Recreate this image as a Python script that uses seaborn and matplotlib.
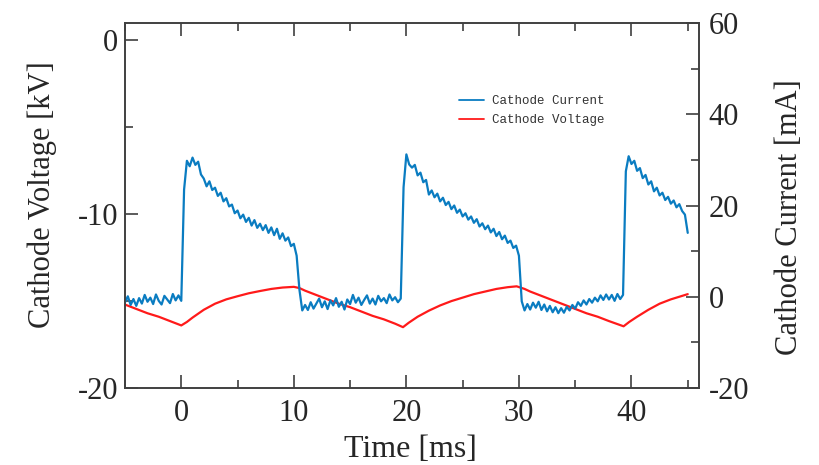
import numpy as np
import pandas as pd
import matplotlib
matplotlib.use("Agg")
import matplotlib.pyplot as plt
from matplotlib.ticker import MultipleLocator
import seaborn as sns

# ---------------- data ----------------
# cathode current [mA], sampled every 0.25 ms from -5 ms to 45 ms
cur_t_start = -5.0
cur_t_step = 0.25
cur_base_a = [-1.2, 0.1, -1.8, -0.5, -2.0, -0.3, -1.5, 0.4, -1.1, -0.2, -1.6,
              0.5, -0.9, -1.7, 0.2, -0.6, -1.4, 0.6, -0.8, 0.3, -0.9]
cur_rise_1 = [23.5, 29.8]
cur_pulse_1 = [28.6, 30.5, 28.9, 29.6, 26.8, 25.9, 24.2, 25.3, 23.4, 23.9,
               22.1, 22.8, 20.9, 21.6, 19.8, 20.2, 18.3, 18.9, 17.2, 18.0,
               16.4, 17.3, 15.6, 16.8, 15.1, 16.0, 14.6, 15.7, 14.0, 15.2,
               13.5, 14.9, 12.7, 13.9, 12.3, 13.0, 11.1, 11.6]
cur_fall_1 = [9.0, 1.5, -3.0]
cur_base_c = [-1.8, -2.9, -1.2, -2.6, -1.5, -0.4, -2.3, -1.0, -2.7, -0.8,
              -1.9, -0.3, -2.2, -1.1, -2.8, -0.6, -1.6, 0.4, -1.3, -0.2,
              -1.8, -0.7, 0.3, -1.5, -0.4, -1.7, 0.2, -1.0, -0.3, -1.4,
              0.5, -0.8, -0.1, -1.2, -0.4]
cur_rise_2 = [24.0, 31.2]
cur_pulse_2 = [29.0, 28.3, 28.9, 26.6, 27.2, 25.1, 25.6, 22.4, 23.3, 21.8,
               22.6, 20.9, 21.7, 20.1, 20.8, 19.2, 20.0, 18.4, 19.1, 17.6,
               18.3, 16.9, 17.6, 16.2, 17.0, 15.4, 16.1, 14.8, 15.6, 14.1,
               14.9, 13.3, 14.2, 12.6, 13.4, 11.8, 12.3, 10.7, 11.2]
cur_fall_2 = [9.0, -1.0, -3.0]
cur_base_e = [-1.6, -2.8, -1.3, -2.4, -1.1, -2.9, -1.7, -3.2, -2.0, -3.4,
              -2.3, -3.6, -2.5, -3.5, -2.2, -3.0, -1.8, -2.6, -1.2, -2.0,
              -0.8, -1.7, -0.5, -1.3, -0.2, -1.0, 0.3, -0.7, 0.5, -0.6,
              0.4, -0.9, 0.6, -0.5, 0.4]
cur_rise_3 = [27.5]
cur_pulse_3 = [30.8, 29.1, 29.8, 27.6, 28.2, 26.0, 26.7, 24.6, 25.3, 23.1,
               23.9, 22.2, 22.8, 21.2, 21.9, 20.4, 21.1, 19.6, 20.3, 18.8,
               18.0, 14.0]

# cathode voltage [kV]
volt_t = [-5, -4, -3, -2, -1, 0, 0.5, 1, 2, 3, 4, 5, 6, 7, 8, 9, 10, 10.5,
          11, 12, 13, 14, 15, 16, 17, 18, 19, 19.7, 20.2, 21, 22, 23, 24,
          25, 26, 27, 28, 29, 29.8, 30.5, 31, 32, 33, 34, 35, 36, 37, 38,
          39.3, 39.8, 40.5, 41.5, 42.5, 43.5, 44.5, 45]
volt_kv = [-15.2, -15.45, -15.7, -15.9, -16.15, -16.4, -16.2, -15.95, -15.5,
           -15.15, -14.9, -14.72, -14.55, -14.42, -14.3, -14.22, -14.18,
           -14.25, -14.4, -14.65, -14.9, -15.15, -15.35, -15.6, -15.85,
           -16.05, -16.3, -16.5, -16.25, -15.9, -15.55, -15.25, -15.0, -14.8,
           -14.6, -14.45, -14.3, -14.2, -14.15, -14.3, -14.45, -14.7, -14.95,
           -15.2, -15.45, -15.7, -15.9, -16.15, -16.45, -16.2, -15.9, -15.5,
           -15.15, -14.9, -14.7, -14.6]

x_ticks = [0, 10, 20, 30, 40]
volt_ticks = [0, -10, -20]
cur_ticks = [-20, 0, 20, 40, 60]

# ---------------- build frames ----------------
cur_ma = (cur_base_a + cur_rise_1 + cur_pulse_1 + cur_fall_1 + cur_base_c +
          cur_rise_2 + cur_pulse_2 + cur_fall_2 + cur_base_e + cur_rise_3 +
          cur_pulse_3)
cur_t = cur_t_start + cur_t_step * np.arange(len(cur_ma))
df_cur = pd.DataFrame({"t": cur_t, "i": cur_ma})
df_volt = pd.DataFrame({"t": volt_t, "v": volt_kv})

# ---------------- styling ----------------
sns.set_style("ticks")
plt.rcParams["font.family"] = ["Liberation Serif", "DejaVu Serif"]
plt.rcParams["axes.unicode_minus"] = False
plt.rcParams["axes.edgecolor"] = "#404040"
plt.rcParams["axes.linewidth"] = 1.2

blue = "#0a7cc1"
red = "#ff1a1a"
tick_col = "#404040"

fig = plt.figure(figsize=(8.2, 4.65), dpi=100)
ax = fig.add_axes([125 / 820, 1 - 388 / 465, 574 / 820, 365 / 465])
ax2 = ax.twinx()

sns.lineplot(data=df_volt, x="t", y="v", ax=ax, color=red, linewidth=1.6,
             estimator=None, legend=False)
sns.lineplot(data=df_cur, x="t", y="i", ax=ax2, color=blue, linewidth=1.6,
             estimator=None, legend=False)

ax.set_xlim(-5, 46)
ax.set_ylim(-20, 1)
ax2.set_ylim(-20, 60)
ax.set_xticks(x_ticks)
ax.set_yticks(volt_ticks)
ax2.set_yticks(cur_ticks)
ax.xaxis.set_minor_locator(MultipleLocator(5))
ax.yaxis.set_minor_locator(MultipleLocator(5))
ax2.yaxis.set_minor_locator(MultipleLocator(10))

ax.tick_params(axis="x", which="both", direction="in", top=True, bottom=True,
               color=tick_col, width=1.2, labelsize=22, pad=8)
ax.tick_params(axis="x", which="major", length=9.5)
ax.tick_params(axis="x", which="minor", length=5.5)
ax.tick_params(axis="y", which="both", direction="in", left=True, right=False,
               color=tick_col, width=1.2, labelsize=22, pad=5)
ax.tick_params(axis="y", which="major", length=9.5)
ax.tick_params(axis="y", which="minor", length=5.5)
ax2.tick_params(axis="y", which="both", direction="in", right=True,
                color=tick_col, width=1.2, labelsize=22, pad=7)
ax2.tick_params(axis="y", which="major", length=9.5)
ax2.tick_params(axis="y", which="minor", length=5.5)

for a in (ax, ax2):
    for s in a.spines.values():
        s.set_color("#404040")
        s.set_linewidth(1.2)

ax.set_xlabel("Time [ms]", fontsize=23)
ax.set_ylabel("Cathode Voltage [kV]", fontsize=22)
ax2.set_ylabel("Cathode Current [mA]", fontsize=22)
ax.xaxis.set_label_coords(0.498, -0.13)
ax.yaxis.set_label_coords(-0.118, 0.53)
ax2.yaxis.set_label_coords(1.132, 0.467)

h_cur = ax2.get_lines()[0]
h_volt = ax.get_lines()[0]
leg = fig.legend([h_cur, h_volt], ["Cathode Current", "Cathode Voltage"],
                 loc="center left", bbox_to_anchor=(459 / 820, 1 - 110.5 / 465),
                 frameon=False, prop={"family": "Liberation Mono", "size": 9},
                 handlelength=2.0, handletextpad=0.6, labelspacing=0.55,
                 borderpad=0, borderaxespad=0)
for line in leg.get_lines():
    line.set_linewidth(1.3)
for txt in leg.get_texts():
    txt.set_color("#333333")

fig.savefig("out.png", dpi=100)
